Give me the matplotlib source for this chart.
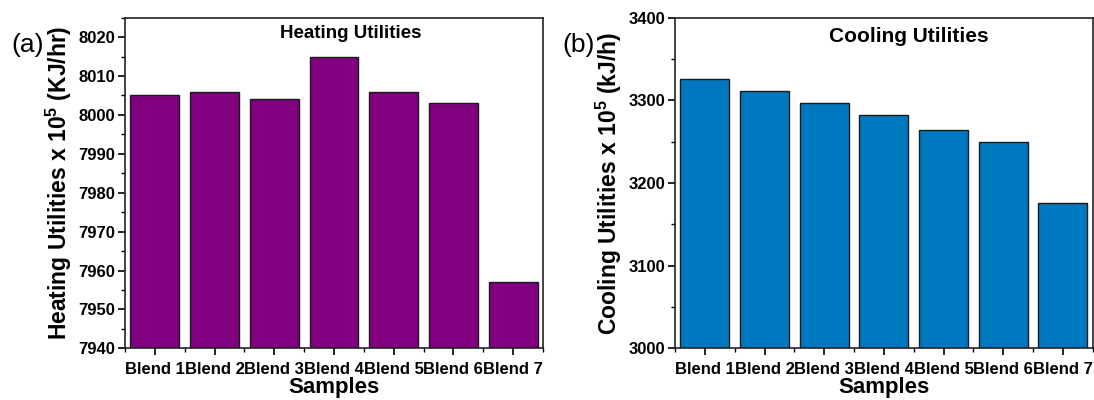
import numpy as np
from matplotlib import pyplot as plt
from matplotlib.ticker import MultipleLocator

samples = ['Blend 1', 'Blend 2', 'Blend 3', 'Blend 4', 'Blend 5', 'Blend 6', 'Blend 7']
heating = [8005, 8006, 8004, 8015, 8006, 8003, 7957]
cooling = [3326, 3311, 3297, 3282, 3264, 3249, 3176]

plt.rcParams['font.family'] = ['Liberation Sans', 'DejaVu Sans']
plt.rcParams['font.weight'] = 'bold'
plt.rcParams['mathtext.fontset'] = 'custom'
plt.rcParams['mathtext.rm'] = 'Liberation Sans:bold'
plt.rcParams['mathtext.it'] = 'Liberation Sans:bold'
plt.rcParams['mathtext.bf'] = 'Liberation Sans:bold'

fig = plt.figure(figsize=(10.94, 4.0), dpi=100)
ax1 = fig.add_axes([0.1143, 0.129, 0.382, 0.827])
ax2 = fig.add_axes([0.617, 0.129, 0.3818, 0.827])

x = np.arange(1, len(samples) + 1)


def style(ax, vals, color, ylim, major, minor, ylabel, title, tx, ty, tsize):
    ax.bar(x, vals, width=0.82, color=color, edgecolor='#1a1a1a', linewidth=1.0)
    ax.set_xlim(0.5, 7.5)
    ax.set_ylim(*ylim)
    ax.set_xticks(x)
    ax.set_xticklabels(samples, fontsize=11.8, fontweight='bold')
    ax.xaxis.set_minor_locator(MultipleLocator(0.5))
    ax.yaxis.set_major_locator(MultipleLocator(major))
    ax.yaxis.set_minor_locator(MultipleLocator(minor))
    ax.tick_params(axis='both', which='major', direction='out', length=5, width=1.2,
                   labelsize=12, pad=2)
    ax.tick_params(axis='x', which='major', pad=5)
    ax.tick_params(axis='both', which='minor', direction='out', length=3, width=1.0)
    for lab in ax.get_yticklabels():
        lab.set_fontweight('bold')
    for sp in ax.spines.values():
        sp.set_linewidth(1.2)
        sp.set_color('#222222')
    ax.set_xlabel('Samples', fontsize=16, fontweight='bold', labelpad=0)
    ax.set_ylabel(ylabel, fontsize=16.5, fontweight='bold', labelpad=3)
    ax.text(tx, ty, title, transform=ax.transAxes, ha='center', va='center',
            fontsize=tsize, fontweight='bold')


style(ax1, heating, '#800080', (7940, 8025), 10, 5,
      'Heating Utilities x 10$^5$ (KJ/hr)', 'Heating Utilities', 0.54, 0.953, 13.5)
style(ax2, cooling, '#0078C0', (3000, 3400), 100, 50,
      'Cooling Utilities x 10$^5$ (kJ/h)', 'Cooling Utilities', 0.559, 0.942, 15)

fig.text(0.0251, 0.8875, '(a)', fontsize=19, fontweight='normal', ha='center', va='center')
fig.text(0.5287, 0.8865, '(b)', fontsize=19, fontweight='normal', ha='center', va='center')

fig.savefig('out.png', dpi=100)
